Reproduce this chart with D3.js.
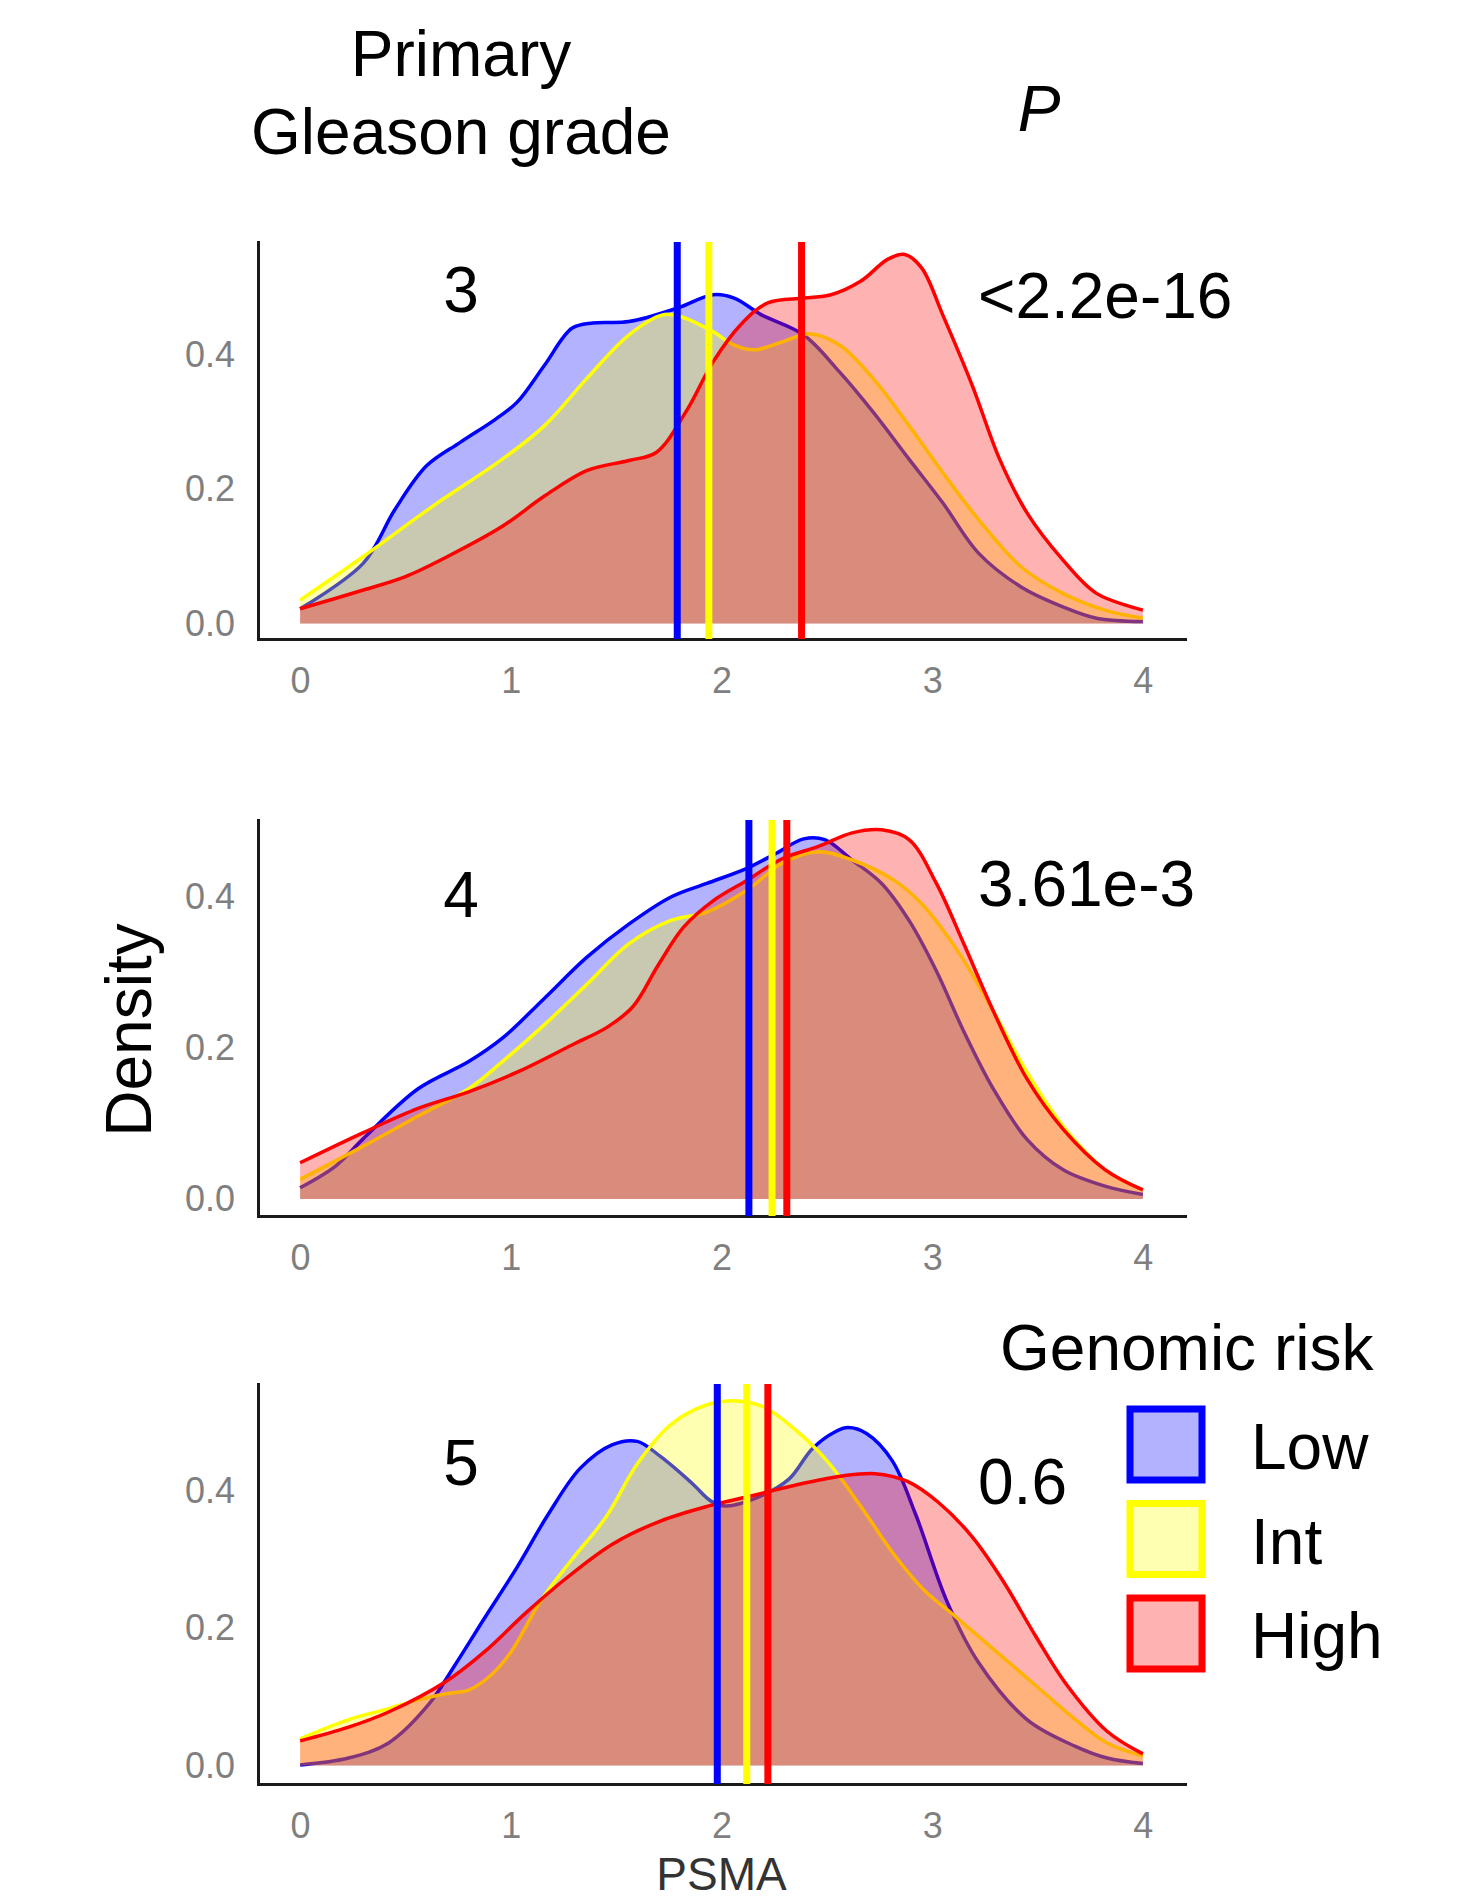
<!DOCTYPE html>
<html>
<head>
<meta charset="utf-8">
<script src="https://cdn.jsdelivr.net/npm/d3@7"></script>
<style>
  body { margin: 0; background: #fff; }
  svg { display: block; }
</style>
</head>
<body>
<div id="chart"></div>
<script>
// ---- data ----
const grades = ["3", "4", "5"];
const pValues = ["<2.2e-16", "3.61e-3", "0.6"];
const groups = ["Low", "Int", "High"];
const xTicks = [0, 1, 2, 3, 4];
const yTicks = [0, 0.2, 0.4];

// density curves, [PSMA, density]
const g3Low = [[0,0.022],[0.3,0.09],[0.45,0.17],[0.6,0.235],[0.76,0.27],[0.93,0.305],[1.03,0.33],[1.16,0.385],[1.29,0.44],[1.39,0.448],[1.56,0.45],[1.79,0.47],[1.96,0.49],[2.06,0.485],[2.19,0.46],[2.39,0.43],[2.56,0.375],[2.72,0.315],[2.89,0.245],[3.05,0.18],[3.22,0.105],[3.42,0.055],[3.62,0.025],[3.78,0.008],[4,0.003]];
const g3Int = [[0,0.035],[0.3,0.1],[0.63,0.175],[0.96,0.245],[1.16,0.295],[1.36,0.365],[1.56,0.43],[1.72,0.46],[1.8,0.458],[1.96,0.435],[2.06,0.415],[2.16,0.408],[2.29,0.42],[2.42,0.432],[2.56,0.415],[2.72,0.365],[2.89,0.295],[3.05,0.225],[3.22,0.155],[3.42,0.085],[3.62,0.045],[3.82,0.02],[4,0.008]];
const g3High = [[0,0.022],[0.3,0.05],[0.5,0.07],[0.7,0.1],[0.96,0.145],[1.16,0.19],[1.36,0.228],[1.56,0.243],[1.69,0.255],[1.83,0.315],[1.96,0.39],[2.09,0.445],[2.22,0.478],[2.39,0.485],[2.52,0.49],[2.66,0.51],[2.79,0.543],[2.87,0.55],[2.95,0.53],[3.05,0.46],[3.19,0.355],[3.32,0.245],[3.45,0.165],[3.62,0.095],[3.78,0.045],[4,0.02]];

const g4Low = [[0,0.015],[0.17,0.044],[0.3,0.08],[0.56,0.146],[0.8,0.182],[0.96,0.213],[1.16,0.266],[1.36,0.32],[1.56,0.364],[1.76,0.4],[1.93,0.418],[2.12,0.438],[2.26,0.458],[2.39,0.477],[2.49,0.476],[2.62,0.449],[2.76,0.418],[2.89,0.369],[3.02,0.302],[3.15,0.222],[3.29,0.146],[3.45,0.079],[3.62,0.039],[3.82,0.017],[4,0.006]];
const g4Int = [[0,0.026],[0.3,0.07],[0.56,0.11],[0.8,0.146],[0.96,0.182],[1.16,0.231],[1.36,0.284],[1.56,0.338],[1.76,0.369],[1.93,0.38],[2.12,0.409],[2.29,0.445],[2.46,0.46],[2.62,0.449],[2.82,0.422],[2.95,0.391],[3.12,0.329],[3.29,0.249],[3.45,0.168],[3.62,0.097],[3.82,0.039],[4,0.012]];
const g4High = [[0,0.048],[0.3,0.088],[0.56,0.12],[0.8,0.142],[1.03,0.168],[1.29,0.204],[1.46,0.228],[1.58,0.255],[1.7,0.31],[1.82,0.36],[1.96,0.395],[2.12,0.422],[2.29,0.451],[2.46,0.467],[2.62,0.485],[2.76,0.489],[2.89,0.476],[3.02,0.418],[3.15,0.338],[3.29,0.249],[3.45,0.159],[3.62,0.093],[3.82,0.039],[4,0.012]];

const g5Low = [[0,0.001],[0.23,0.011],[0.42,0.033],[0.61,0.089],[0.73,0.144],[0.88,0.217],[1.03,0.289],[1.18,0.367],[1.33,0.433],[1.48,0.467],[1.6,0.472],[1.71,0.45],[1.86,0.411],[1.95,0.385],[2.02,0.378],[2.16,0.389],[2.32,0.417],[2.43,0.461],[2.54,0.486],[2.6,0.492],[2.69,0.483],[2.81,0.444],[2.92,0.367],[3.07,0.239],[3.22,0.15],[3.45,0.067],[3.68,0.028],[3.83,0.011],[4,0.003]];
const g5Int = [[0,0.039],[0.23,0.067],[0.42,0.083],[0.55,0.095],[0.7,0.105],[0.8,0.11],[0.9,0.13],[1.0,0.165],[1.14,0.239],[1.29,0.3],[1.45,0.361],[1.6,0.439],[1.75,0.494],[1.9,0.522],[2.05,0.531],[2.2,0.522],[2.35,0.489],[2.5,0.444],[2.66,0.378],[2.81,0.311],[2.96,0.256],[3.11,0.217],[3.3,0.167],[3.49,0.117],[3.68,0.067],[3.83,0.033],[4,0.014]];
const g5High = [[0,0.036],[0.23,0.056],[0.42,0.078],[0.69,0.122],[0.88,0.167],[1.07,0.222],[1.26,0.272],[1.48,0.322],[1.71,0.356],[1.94,0.378],[2.16,0.394],[2.39,0.411],[2.58,0.422],[2.73,0.425],[2.88,0.414],[3.03,0.383],[3.19,0.333],[3.34,0.267],[3.49,0.189],[3.64,0.117],[3.83,0.05],[4,0.017]];

// group means (vertical lines), one per grade
const meanLow = [1.79, 2.13, 1.98];
const meanInt = [1.94, 2.24, 2.12];
const meanHigh = [2.38, 2.31, 2.22];

// ---- styling / layout ----
const colors = { Low: "#0000ff", Int: "#ffff00", High: "#ff0000" };
const W = 1463, H = 1899;
const font = "'Liberation Sans', Arial, sans-serif";

const panels = [
  { curves: [g3Low, g3Int, g3High], top: 242, bottom: 639, yDom: [-0.023, 0.5686], labelY: 312, pY: 318 },
  { curves: [g4Low, g4Int, g4High], top: 820, bottom: 1216, yDom: [-0.0225, 0.502], labelY: 917, pY: 906 },
  { curves: [g5Low, g5Int, g5High], top: 1384, bottom: 1784, yDom: [-0.0268, 0.5555], labelY: 1485, pY: 1504 }
];
const means = [meanLow, meanInt, meanHigh];

const svg = d3.select("#chart").append("svg")
  .attr("width", W)
  .attr("height", H)
  .style("font-family", font);

const x = d3.scaleLinear().domain([-0.2, 4.2]).range([258, 1185]);

panels.forEach((p, i) => {
  const y = d3.scaleLinear().domain(p.yDom).range([p.bottom, p.top]);
  const g = svg.append("g");

  const area = d3.area()
    .x((d) => x(d[0]))
    .y0(y(0))
    .y1((d) => y(d[1]))
    .curve(d3.curveCatmullRom);
  const line = d3.line()
    .x((d) => x(d[0]))
    .y((d) => y(d[1]))
    .curve(d3.curveCatmullRom);

  groups.forEach((grp, k) => {
    g.append("path")
      .attr("d", area(p.curves[k]))
      .attr("fill", colors[grp])
      .attr("fill-opacity", 0.3);
    g.append("path")
      .attr("d", line(p.curves[k]))
      .attr("fill", "none")
      .attr("stroke", colors[grp])
      .attr("stroke-width", 3.5);
  });

  // axes
  const yAxis = g.append("g")
    .attr("transform", `translate(${x(-0.2)},0)`)
    .call(d3.axisLeft(y).tickValues(yTicks).tickSize(0).tickSizeOuter(0).tickPadding(23).tickFormat(d3.format(".1f")));
  const xAxis = g.append("g")
    .attr("transform", `translate(0,${p.bottom})`)
    .call(d3.axisBottom(x).tickValues(xTicks).tickSize(0).tickSizeOuter(0).tickPadding(28).tickFormat(d3.format("d")));
  [yAxis, xAxis].forEach((a) => {
    a.select(".domain").attr("stroke", "#1a1a1a").attr("stroke-width", 3).attr("stroke-linecap", "square");
    a.selectAll("text").attr("fill", "#7f7f7f").style("font-size", "36px").style("font-family", font);
  });

  // mean lines
  groups.forEach((grp, k) => {
    g.append("line")
      .attr("x1", x(means[k][i])).attr("x2", x(means[k][i]))
      .attr("y1", p.top).attr("y2", p.bottom)
      .attr("stroke", colors[grp])
      .attr("stroke-width", 7);
  });

  // grade and p-value labels
  g.append("text")
    .attr("x", 461).attr("y", p.labelY)
    .attr("text-anchor", "middle")
    .style("font-size", "64px")
    .text(grades[i]);
  g.append("text")
    .attr("x", 978).attr("y", p.pY)
    .style("font-size", "64px")
    .text(pValues[i]);
});

// header
svg.append("text").attr("x", 461).attr("y", 76).attr("text-anchor", "middle")
  .style("font-size", "64px").text("Primary");
svg.append("text").attr("x", 461).attr("y", 154).attr("text-anchor", "middle")
  .style("font-size", "64px").text("Gleason grade");
svg.append("text").attr("x", 1039).attr("y", 131).attr("text-anchor", "middle")
  .style("font-size", "64px").style("font-style", "italic").text("P");

// axis titles
svg.append("text")
  .attr("transform", "translate(151,1030) rotate(-90)")
  .attr("text-anchor", "middle")
  .style("font-size", "64px")
  .text("Density");
svg.append("text")
  .attr("x", x(2)).attr("y", 1890)
  .attr("text-anchor", "middle")
  .attr("fill", "#333")
  .style("font-size", "46px")
  .text("PSMA");

// legend
svg.append("text").attr("x", 1000).attr("y", 1370)
  .style("font-size", "64px").text("Genomic risk");
const lg = svg.append("g").attr("transform", "translate(1130,1409)");
groups.forEach((grp, k) => {
  lg.append("rect")
    .attr("x", 0).attr("y", k * 94.5)
    .attr("width", 72).attr("height", 71)
    .attr("fill", colors[grp]).attr("fill-opacity", 0.3)
    .attr("stroke", colors[grp]).attr("stroke-width", 7);
  lg.append("text")
    .attr("x", 121).attr("y", k * 94.5 + 60)
    .style("font-size", "64px")
    .text(grp);
});
</script>
</body>
</html>
